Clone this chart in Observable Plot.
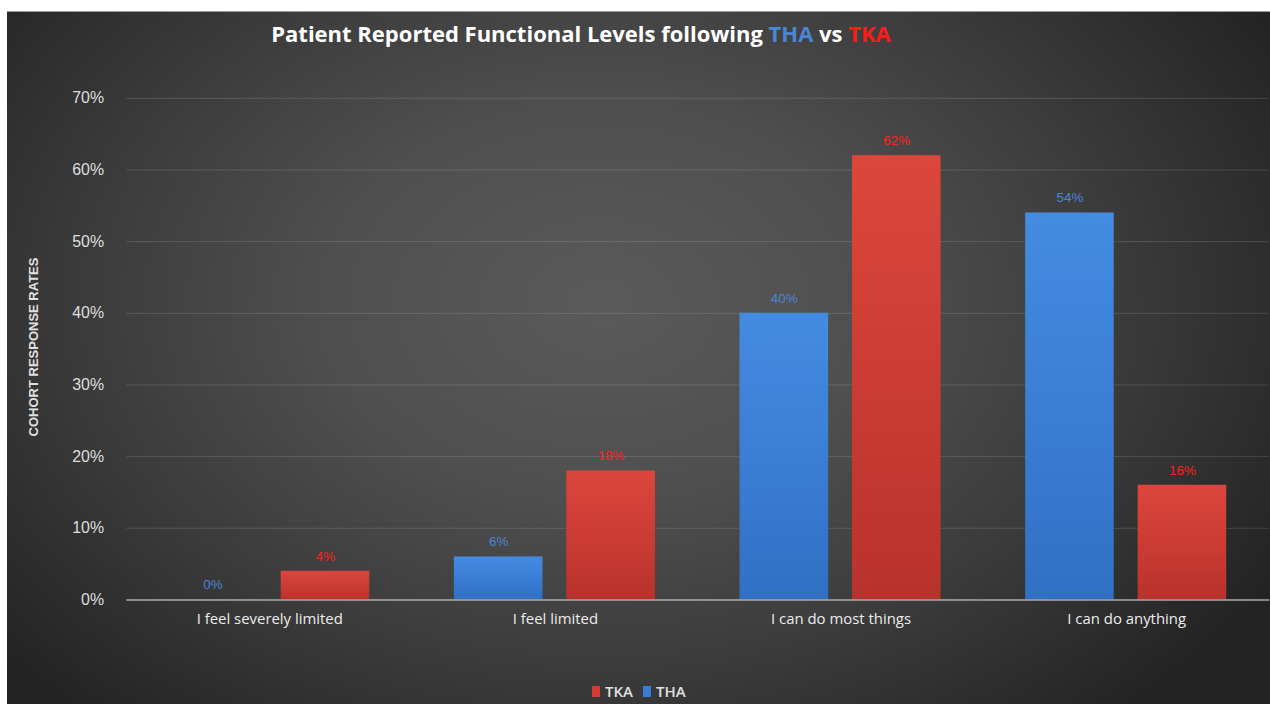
<!DOCTYPE html>
<html><head><meta charset="utf-8">
<script src="https://cdn.jsdelivr.net/npm/d3@7"></script>
<script src="https://cdn.jsdelivr.net/npm/@observablehq/plot@0.6"></script>
<style>
html,body{margin:0;padding:0;background:#fff;}
body{width:1270px;height:704px;overflow:hidden;position:relative;}
#panel{position:absolute;left:7px;top:11px;width:1263px;height:693px;border-top:1px solid #9a9a9a;box-sizing:border-box;
  background:radial-gradient(ellipse 62% 80% at 47% 42%, #5a5a5a 0%, #4f4f4f 35%, #3c3c3c 65%, #232323 100%);overflow:hidden;}
#title{position:absolute;left:574px;top:8px;transform:translateX(-50%);white-space:nowrap;font-family:"Open Sans",sans-serif;font-weight:700;font-size:22px;line-height:26px;color:#fff;}
#ytitle{position:absolute;left:26px;top:335px;transform:translate(-50%,-50%) rotate(-90deg);white-space:nowrap;font-family:"Liberation Sans Narrow","Liberation Sans",sans-serif;font-weight:700;font-size:13px;color:#e0e0e0;}
#chart{position:absolute;left:0;top:49px;}
#legend{position:absolute;left:585px;top:669px;display:flex;align-items:center;font-family:"Open Sans",sans-serif;font-weight:600;font-size:15px;color:#e0e0e0;}
#legend .item{display:flex;align-items:center;margin-right:10px;}
#legend .sw{width:8px;height:11px;margin-right:5px;}
[aria-label="y-axis tick label"]{font-size:16px;fill:#dedede;font-family:"Liberation Sans",Arial,sans-serif;}
[aria-label="fx-axis tick label"]{font-size:15px;fill:#ececec;font-family:"Open Sans",sans-serif;}
</style></head>
<body>
<div id="panel">
  <div id="title"></div>
  <div id="ytitle">COHORT RESPONSE RATES</div>
  <div id="chart"></div>
  <div id="legend"></div>
</div>
<script>
const categories = ["I feel severely limited", "I feel limited", "I can do most things", "I can do anything"];
const series = ["THA", "TKA"];
const thaValues = [0, 6, 40, 54];
const tkaValues = [4, 18, 62, 16];
const yTicks = [0, 10, 20, 30, 40, 50, 60, 70];
const barFills = {THA: "url(#gTHA)", TKA: "url(#gTKA)"};
const labelColors = {THA: "#4d84d6", TKA: "#ff1f1f"};
const legendColors = {TKA: "#d23a32", THA: "#3a7bd5"};
const titleText = ["Patient Reported Functional Levels following ", "THA", " vs ", "TKA"];

const rows = [];
categories.forEach((c, i) => {
  rows.push({category: c, series: "THA", value: thaValues[i]});
  rows.push({category: c, series: "TKA", value: tkaValues[i]});
});

const marks = [Plot.gridY(yTicks, {stroke: "#fff", strokeOpacity: 0.14})];
for (const s of series) {
  const data = rows.filter(d => d.series === s);
  marks.push(Plot.barY(data, {fx: "category", x: "series", y: "value", fill: barFills[s]}));
  marks.push(Plot.text(data, {fx: "category", x: "series", y: "value", text: d => d.value + "%", dy: -15,
    fill: labelColors[s], fontSize: 13.5, fontFamily: "Liberation Sans, Arial, sans-serif"}));
}
marks.push(Plot.ruleY([0], {stroke: "#a8a8a8", strokeWidth: 1.5}));

const svg = Plot.plot({
  width: 1269, height: 590,
  marginLeft: 118, marginRight: 0, marginTop: 37, marginBottom: 49,
  style: {background: "transparent", color: "#dedede", overflow: "visible"},
  fx: {domain: categories, padding: 0, label: null, tickSize: 0, tickPadding: 14, axis: "bottom"},
  x: {domain: series, paddingInner: 0.21, paddingOuter: 0.367, axis: null},
  y: {domain: [0, 70], ticks: yTicks, tickFormat: d => d + "%", tickSize: 0, tickPadding: 23, label: null},
  marks
});

const defs = d3.select(svg).insert("defs", ":first-child");
const grads = {gTHA: ["#448be2", "#3b7ed6", "#3070c4"], gTKA: ["#dc463c", "#cc3c34", "#b8322b"]};
for (const [id, cols] of Object.entries(grads)) {
  const g = defs.append("linearGradient").attr("id", id).attr("x1", 0).attr("y1", 0).attr("x2", 0).attr("y2", 1);
  g.append("stop").attr("offset", "0%").attr("stop-color", cols[0]);
  g.append("stop").attr("offset", "50%").attr("stop-color", cols[1]);
  g.append("stop").attr("offset", "100%").attr("stop-color", cols[2]);
}
document.getElementById("chart").appendChild(svg);

const t = document.getElementById("title");
titleText.forEach((txt, i) => {
  const sp = document.createElement("span");
  sp.textContent = txt;
  if (txt === "THA" && i === 1) sp.style.color = "#4a86d8";
  if (txt === "TKA" && i === 3) sp.style.color = "#ff1a1a";
  t.appendChild(sp);
});

const lg = document.getElementById("legend");
for (const s of ["TKA", "THA"]) {
  const it = document.createElement("div"); it.className = "item";
  const sw = document.createElement("div"); sw.className = "sw"; sw.style.background = legendColors[s];
  const tx = document.createElement("span"); tx.textContent = s;
  it.appendChild(sw); it.appendChild(tx); lg.appendChild(it);
}
</script>
</body></html>
